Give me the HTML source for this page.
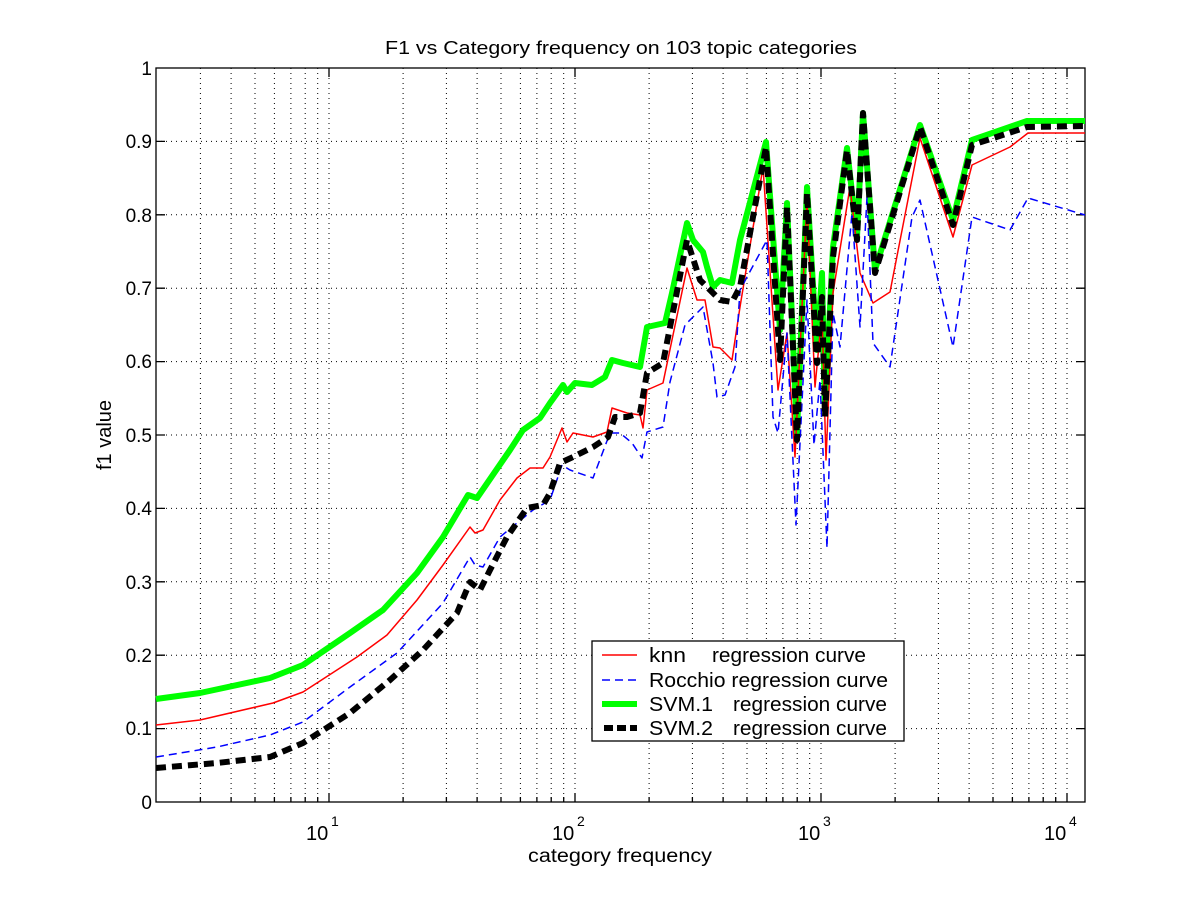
<!DOCTYPE html>
<html><head><meta charset="utf-8"><style>
html,body{margin:0;padding:0;background:#fff;}
svg{display:block;font-family:"Liberation Sans",Arial,sans-serif;}
</style></head><body>
<svg width="1200" height="900" viewBox="0 0 1200 900" xmlns="http://www.w3.org/2000/svg">
<rect width="1200" height="900" fill="#fff"/>
<g stroke="#000" stroke-width="1" stroke-dasharray="1,4" fill="none">
<path d="M200.4 68V802M231.1 68V802M255 68V802M274.4 68V802M290.9 68V802M305.2 68V802M317.7 68V802M329 68V802
M403.1 68V802M446.4 68V802M477.1 68V802M501 68V802M520.4 68V802M536.9 68V802M551.2 68V802M563.7 68V802M575 68V802
M649.1 68V802M692.4 68V802M723.1 68V802M747 68V802M766.4 68V802M782.9 68V802M797.2 68V802M809.7 68V802M821 68V802
M895.1 68V802M938.4 68V802M969.1 68V802M993 68V802M1012.4 68V802M1028.9 68V802M1043.2 68V802M1055.7 68V802M1067 68V802
M156 728.6H1085M156 655.2H1085M156 581.8H1085M156 508.4H1085M156 435H1085M156 361.6H1085M156 288.2H1085M156 214.8H1085M156 141.4H1085"/>
</g>
<g stroke="#000" stroke-width="1.3" fill="none">
<rect x="156" y="68" width="929" height="734"/>
<path d="M329 802v-9M575 802v-9M821 802v-9M1067 802v-9M329 68v9M575 68v9M821 68v9M1067 68v9
M200.4 802v-5M231.1 802v-5M255 802v-5M274.4 802v-5M290.9 802v-5M305.2 802v-5M317.7 802v-5
M403.1 802v-5M446.4 802v-5M477.1 802v-5M501 802v-5M520.4 802v-5M536.9 802v-5M551.2 802v-5M563.7 802v-5
M649.1 802v-5M692.4 802v-5M723.1 802v-5M747 802v-5M766.4 802v-5M782.9 802v-5M797.2 802v-5M809.7 802v-5
M895.1 802v-5M938.4 802v-5M969.1 802v-5M993 802v-5M1012.4 802v-5M1028.9 802v-5M1043.2 802v-5M1055.7 802v-5
M156 728.6h9M156 655.2h9M156 581.8h9M156 508.4h9M156 435h9M156 361.6h9M156 288.2h9M156 214.8h9M156 141.4h9
M1085 728.6h-9M1085 655.2h-9M1085 581.8h-9M1085 508.4h-9M1085 435h-9M1085 361.6h-9M1085 288.2h-9M1085 214.8h-9M1085 141.4h-9"/>
</g>
<g font-size="19" fill="#000" text-anchor="end">
<text x="152" y="809">0</text><text x="152" y="735">0.1</text><text x="152" y="662">0.2</text>
<text x="152" y="589">0.3</text><text x="152" y="515">0.4</text><text x="152" y="442">0.5</text>
<text x="152" y="368">0.6</text><text x="152" y="295">0.7</text><text x="152" y="222">0.8</text>
<text x="152" y="148">0.9</text><text x="152" y="75">1</text>
</g>
<g font-size="20" fill="#000">
<text x="306" y="840">10</text><text x="331" y="826" font-size="14">1</text>
<text x="552" y="840">10</text><text x="577" y="826" font-size="14">2</text>
<text x="798" y="840">10</text><text x="823" y="826" font-size="14">3</text>
<text x="1044" y="840">10</text><text x="1069" y="826" font-size="14">4</text>
<text x="528" y="862" font-size="19" textLength="184" lengthAdjust="spacingAndGlyphs">category frequency</text>
<text x="385" y="54" font-size="18" textLength="472" lengthAdjust="spacingAndGlyphs">F1 vs Category frequency on 103 topic categories</text>
<text transform="translate(111,435) rotate(-90)" text-anchor="middle" font-size="20">f1 value</text>
</g>
<g fill="none" stroke-linejoin="round">
<polyline stroke="#00ff00" stroke-width="6" points="156,699 200,693 270,678 303,665 350,633 383,610 417,573 443,537 468,495 477,498 510,450 523,430 540,418 550,403 563,385 567,392 575,383 592,385 605,377 612,360 623,363 640,367 647,327 665,323 672,293 687,223 693,240 703,252 707,267 713,287 720,280 732,283 740,240 766,142 780,330 787,203 797,433 807,187 817,350 822,273 825,410 833,247 847,148 857,237 863,113 875,270 920,125 953,220 972,140 1027,121 1085,121"/>
<polyline stroke="#ff0000" stroke-width="1.5" points="156,725 200,720 273,703 303,692 357,657 387,635 417,600 443,565 470,527 475,533 483,530 500,500 517,478 530,468 543,468 550,457 562,428 567,442 573,433 593,437 607,432 612,408 627,413 640,415 643,428 647,390 663,383 687,268 697,300 705,300 713,347 720,348 732,360 740,307 763,167 778,390 787,333 795,457 807,200 815,387 822,313 826,460 833,293 850,187 860,273 873,303 890,292 920,138 953,237 972,165 1010,147 1028,133 1085,133"/>
<polyline stroke="#0000ff" stroke-width="1.5" stroke-dasharray="8,5" points="156,757 217,747 270,735 303,722 350,687 397,653 443,603 470,557 475,565 483,567 500,537 517,523 533,510 550,500 562,465 570,470 593,478 610,433 620,433 632,443 642,458 647,432 663,427 670,382 685,325 703,307 713,363 717,397 725,395 735,367 740,290 767,240 773,417 778,433 787,333 796,525 807,300 814,445 820,380 827,548 833,313 840,347 852,213 860,327 867,197 873,343 890,367 912,217 920,200 953,347 972,217 1010,230 1028,198 1085,215"/>
<polyline stroke="#000" stroke-width="6" stroke-dasharray="10,6" points="156,768 217,763 270,757 303,743 350,713 390,680 423,650 457,613 470,582 480,590 490,570 507,537 527,508 543,505 550,493 560,463 573,457 593,447 608,437 615,417 627,417 640,413 647,373 663,363 687,240 700,280 720,300 732,302 740,287 766,147 780,360 787,207 797,440 807,193 817,363 822,297 825,417 833,257 847,150 857,240 863,113 875,273 920,127 953,225 972,145 1027,127 1085,126"/>
</g>
<rect x="592" y="641" width="312" height="100" fill="#fff" stroke="#000" stroke-width="1.3"/>
<g>
<line x1="602" y1="655" x2="637" y2="655" stroke="#ff0000" stroke-width="1.5"/>
<line x1="602" y1="680" x2="637" y2="680" stroke="#0000ff" stroke-width="1.5" stroke-dasharray="8,5"/>
<line x1="602" y1="704" x2="637" y2="704" stroke="#00ff00" stroke-width="6"/>
<line x1="604" y1="728" x2="637" y2="728" stroke="#000" stroke-width="6" stroke-dasharray="9,4"/>
</g>
<g font-size="20" fill="#000">
<text x="649" y="662" textLength="37" lengthAdjust="spacingAndGlyphs">knn</text><text x="712" y="662" textLength="154" lengthAdjust="spacingAndGlyphs">regression curve</text>
<text x="649" y="687" textLength="239" lengthAdjust="spacingAndGlyphs">Rocchio regression curve</text>
<text x="649" y="711" textLength="64" lengthAdjust="spacingAndGlyphs">SVM.1</text><text x="733" y="711" textLength="154" lengthAdjust="spacingAndGlyphs">regression curve</text>
<text x="649" y="735" textLength="64" lengthAdjust="spacingAndGlyphs">SVM.2</text><text x="733" y="735" textLength="154" lengthAdjust="spacingAndGlyphs">regression curve</text>
</g>
</svg>
</body></html>
